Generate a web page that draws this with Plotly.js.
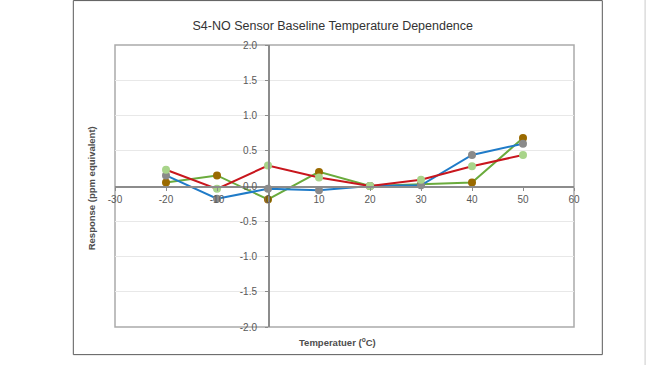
<!DOCTYPE html>
<html>
<head>
<meta charset="utf-8">
<script src="https://cdn.plot.ly/plotly-3.0.1.min.js"></script>
<style>html,body{margin:0;padding:0;background:#fff;}#chart{width:646px;height:365px;}</style>
</head>
<body>
<div id="chart"></div>
<script>
var temperatures = [-20, -10, 0, 10, 20, 30, 40, 50];
var seriesA = [0.15, -0.18, -0.04, -0.06, 0.0, 0.01, 0.44, 0.60];
var seriesB = [0.23, -0.04, 0.29, 0.12, 0.0, 0.09, 0.28, 0.44];
var seriesC = [0.05, 0.15, -0.19, 0.20, 0.0, 0.02, 0.05, 0.68];
var xTicks = [-30, -20, -10, 0, 10, 20, 30, 40, 50, 60];
var yTicks = [-2.0, -1.5, -1.0, -0.5, 0.0, 0.5, 1.0, 1.5, 2.0];

function tr(y, lineColor, markerColor) {
  return {
    x: temperatures, y: y, type: 'scatter', mode: 'lines+markers',
    line: {color: lineColor, width: 2},
    marker: {color: markerColor, size: 8},
    hoverinfo: 'skip'
  };
}
var data = [
  tr(seriesC, '#6aab3c', '#9a6a00'),
  tr(seriesA, '#1f7bc8', '#8a8a8a'),
  tr(seriesB, '#c8161d', '#a8d48a')
];

var tickFont = {family: 'Liberation Sans, Arial, sans-serif', size: 10, color: '#595959'};
var layout = {
  width: 646, height: 365,
  margin: {l: 114.7, r: 72.3, t: 44.7, b: 37.7},
  paper_bgcolor: '#ffffff', plot_bgcolor: '#ffffff',
  showlegend: false,
  title: {text: 'S4-NO Sensor Baseline Temperature Dependence', x: 0.4745, xref: 'paper', xanchor: 'center',
          y: 1 - 26/365, yref: 'container', yanchor: 'middle',
          font: {family: 'Liberation Sans, Arial, sans-serif', size: 12.5, color: '#333333'}},
  xaxis: {
    range: [-30, 60], tickvals: xTicks, ticktext: xTicks.map(String),
    anchor: 'free', position: 0.5,
    showline: true, linecolor: '#8c8c8c', linewidth: 1.5,
    ticks: 'outside', ticklen: 3, tickcolor: '#8c8c8c',
    showgrid: false, zeroline: false, tickfont: tickFont
  },
  yaxis: {
    range: [-2, 2], tickvals: yTicks, ticktext: yTicks.map(function(v){return v.toFixed(1);}),
    anchor: 'free', position: 1/3,
    showline: true, linecolor: '#8c8c8c', linewidth: 1.5,
    ticks: 'outside', ticklen: 3, tickcolor: '#8c8c8c', ticklabelstandoff: 6,
    showgrid: true, gridcolor: '#e8e8e8', gridwidth: 1,
    zeroline: false, tickfont: tickFont
  },
  shapes: [
    {type: 'rect', xref: 'paper', yref: 'paper', x0: 0, x1: 1, y0: 0, y1: 1,
     line: {color: '#ababab', width: 1.5}, layer: 'below'},
    {type: 'rect', xref: 'paper', yref: 'paper', x0: -0.0908, x1: 1.0617, y0: -0.098, y1: 1.1575,
     line: {color: '#5a5a5a', width: 1}},
    {type: 'line', xref: 'paper', yref: 'paper', x0: 1.1553, x1: 1.1553, y0: -0.14, y1: 1.16,
     line: {color: '#e0e0e0', width: 2}}
  ],
  annotations: [
    {text: '<b>Temperatuer (<sup>o</sup>C)</b>', xref: 'paper', yref: 'paper',
     x: (337 - 114.7)/459, y: (327.3 - 342)/282.6, xanchor: 'center', yanchor: 'middle',
     showarrow: false, font: {family: 'Liberation Sans, Arial, sans-serif', size: 9.5, color: '#4d4d4d'}},
    {text: '<b>Response (ppm equivalent)</b>', xref: 'paper', yref: 'paper',
     x: (92 - 114.7)/459, y: (327.3 - 188)/282.6, xanchor: 'center', yanchor: 'middle', textangle: -90,
     showarrow: false, font: {family: 'Liberation Sans, Arial, sans-serif', size: 9.5, color: '#4d4d4d'}}
  ]
};
Plotly.newPlot('chart', data, layout, {staticPlot: true, displayModeBar: false});
</script>
</body>
</html>
